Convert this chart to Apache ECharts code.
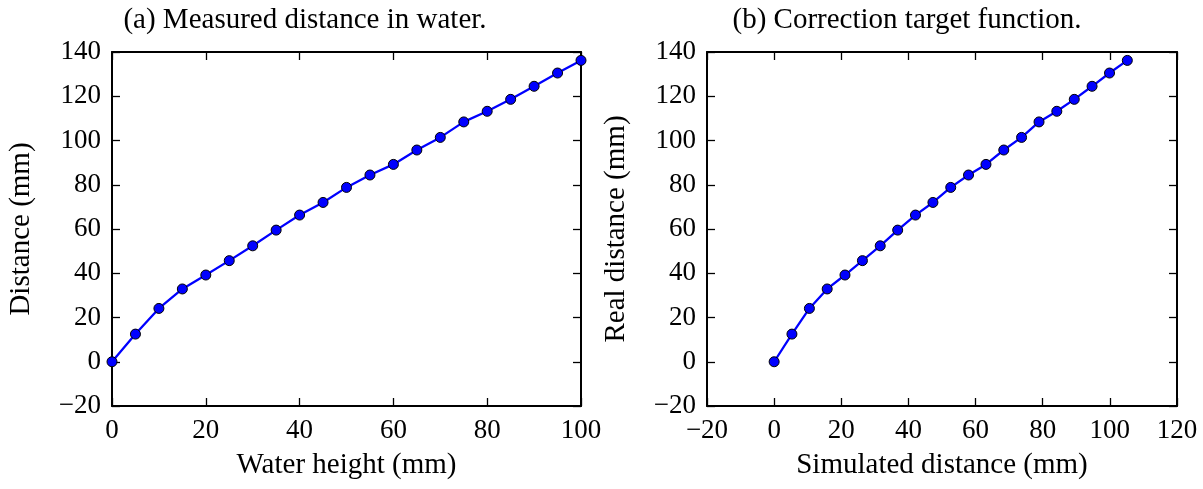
<!DOCTYPE html>
<html>
<head>
<meta charset="utf-8">
<script src="https://cdn.jsdelivr.net/npm/echarts@6/dist/echarts.min.js"></script>
<style>
  html, body { margin: 0; padding: 0; background: #fff; }
  #chart { width: 1203px; height: 489px; }
</style>
</head>
<body>
<div id="chart"></div>
<script>
// data
var waterHeight = [0, 5, 10, 15, 20, 25, 30, 35, 40, 45, 50, 55, 60, 65, 70, 75, 80, 85, 90, 95, 100];
var measuredDistance = [0, 12.5, 24.1, 32.9, 39.2, 45.7, 52.4, 59.5, 66.3, 72.0, 78.8, 84.4, 89.2, 95.7, 101.4, 108.4, 113.2, 118.6, 124.5, 130.5, 136.2];
var simulatedDistance = [0, 5.3, 10.5, 15.8, 21.1, 26.3, 31.6, 36.8, 42.1, 47.3, 52.6, 57.9, 63.1, 68.4, 73.7, 78.9, 84.2, 89.4, 94.7, 99.9, 105.2];
var realDistance = measuredDistance;

var titles = ['(a) Measured distance in water.', '(b) Correction target function.'];
var xNames = ['Water height (mm)', 'Simulated distance (mm)'];
var yNames = ['Distance (mm)', 'Real distance (mm)'];

var FONT = 'Liberation Serif';
var FS = 27;      // tick labels
var FS_NAME = 29; // axis names and captions

function pairs(xs, ys) {
	var out = [];
	for (var i = 0; i < xs.length; i++) {
		out.push([xs[i], ys[i]]);
	}
	return out;
}

// tick labels use a real minus sign like the original
function fmt(v) {
	return v < 0 ? '\u2212' + Math.abs(v) : String(v);
}

var lineStyleAxis = {color: '#000', width: 2};

function mainAxis(grid, min, max, name, gap, isY) {
	return {
		type: 'value',
		gridIndex: grid,
		position: isY ? 'left' : 'bottom',
		min: min, max: max, interval: 20,
		name: name,
		nameLocation: 'middle',
		nameGap: gap,
		nameTextStyle: {fontFamily: FONT, fontSize: FS_NAME, color: '#000'},
		axisLine: {show: true, onZero: false, lineStyle: lineStyleAxis},
		axisTick: {show: true, inside: true, length: 8, lineStyle: {color: '#000', width: 1.3}},
		axisLabel: {formatter: fmt, fontFamily: FONT, fontSize: FS, color: '#000', margin: 11},
		splitLine: {show: false}
	};
}

function mirrorAxis(grid, min, max, isY) {
	return {
		type: 'value',
		gridIndex: grid,
		position: isY ? 'right' : 'top',
		min: min, max: max, interval: 20,
		axisLine: {show: true, onZero: false, lineStyle: lineStyleAxis},
		axisTick: {show: true, inside: true, length: 8, lineStyle: {color: '#000', width: 1.3}},
		axisLabel: {show: false},
		splitLine: {show: false}
	};
}

function lineSeries(xi, yi, data) {
	return {
		type: 'line',
		xAxisIndex: xi,
		yAxisIndex: yi,
		data: data,
		symbol: 'circle',
		symbolSize: 10,
		clip: false,
		lineStyle: {color: '#0000ff', width: 2.3},
		itemStyle: {color: '#0000ff', borderColor: '#000', borderWidth: 1},
		animation: false
	};
}

// captions are centred on each half of the figure, not on the plot box
var option = {
	backgroundColor: '#fff',
	animation: false,
	title: [
		{text: titles[0], left: 300, top: 1, textAlign: 'center',
			textStyle: {fontFamily: FONT, fontSize: FS_NAME, fontWeight: 'normal', color: '#000'}},
		{text: titles[1], left: 902, top: 1, textAlign: 'center',
			textStyle: {fontFamily: FONT, fontSize: FS_NAME, fontWeight: 'normal', color: '#000'}}
	],
	grid: [
		{left: 112, top: 52, width: 469, height: 354},
		{left: 707, top: 52, width: 470, height: 354}
	],
	xAxis: [
		mainAxis(0, 0, 100, xNames[0], 45, false),
		mirrorAxis(0, 0, 100, false),
		mainAxis(1, -20, 120, xNames[1], 45, false),
		mirrorAxis(1, -20, 120, false)
	],
	yAxis: [
		mainAxis(0, -20, 140, yNames[0], 76, true),
		mirrorAxis(0, -20, 140, true),
		mainAxis(1, -20, 140, yNames[1], 76, true),
		mirrorAxis(1, -20, 140, true)
	],
	series: [
		lineSeries(0, 0, pairs(waterHeight, measuredDistance)),
		lineSeries(2, 2, pairs(simulatedDistance, realDistance))
	]
};

var chart = echarts.init(document.getElementById('chart'));
chart.setOption(option);
</script>
</body>
</html>
